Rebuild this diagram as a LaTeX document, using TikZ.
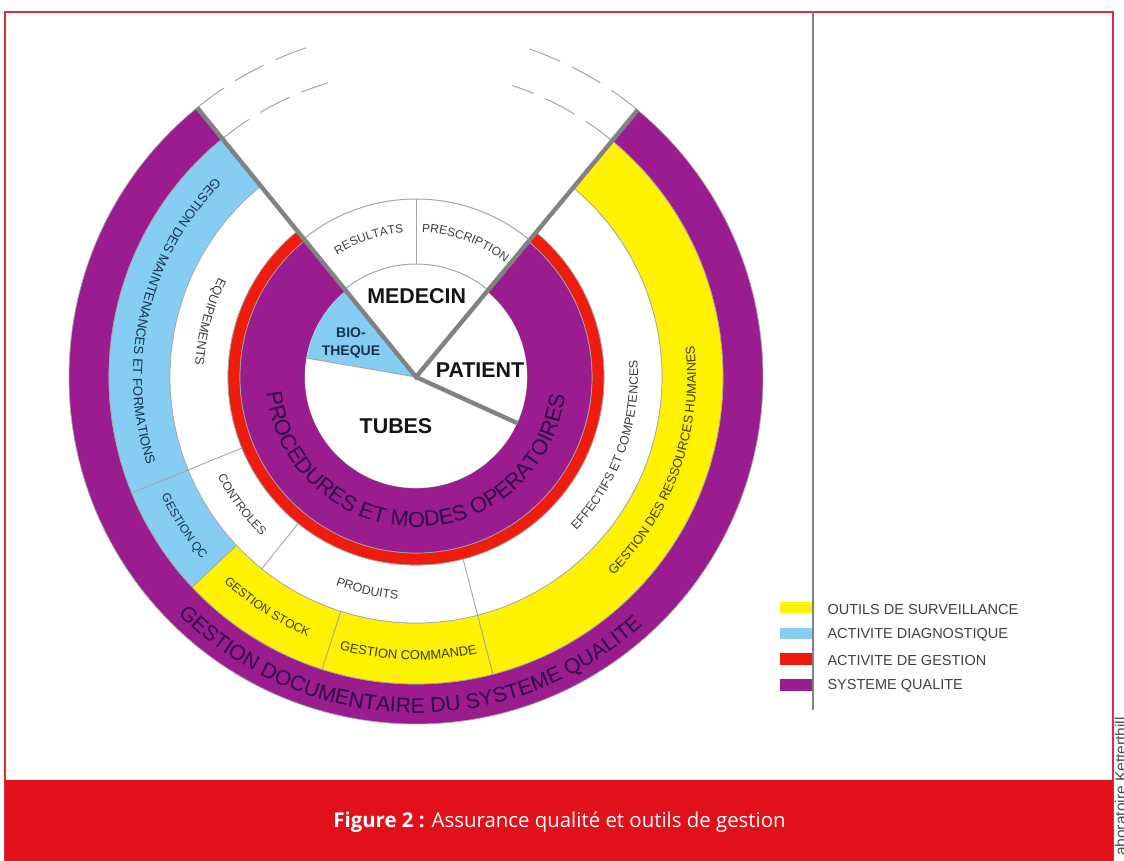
\documentclass[tikz,border=0pt]{standalone}
\usepackage{fontspec}
\setmainfont{Liberation Sans}
\newfontfamily\capfont{Open Sans}
\usetikzlibrary{decorations.text}
\definecolor{qpurple}{HTML}{9A1C8E}
\definecolor{qblue}{HTML}{86CDF4}
\definecolor{qyellow}{HTML}{FFF200}
\definecolor{qred}{HTML}{EE1C0C}
\definecolor{qbanner}{HTML}{E2101A}
\definecolor{qframe}{HTML}{D8303A}
\definecolor{qline}{HTML}{808285}
\definecolor{qthin}{HTML}{A5A5A5}
\definecolor{onwhite}{HTML}{3C3C46}
\definecolor{onblue}{HTML}{16304E}
\definecolor{onyellow}{HTML}{3C3A10}
\definecolor{onpurple}{HTML}{2C0A46}
\tikzset{
  thinsep/.style={draw=qthin,line width=0.9pt},
  thickray/.style={draw=qline,line width=4.4pt},
  ringedge/.style={draw=qthin,line width=0.7pt},
  dashedge/.style={draw=qthin,line width=1pt,dash pattern=on 33pt off 13pt},
  legendtext/.style={anchor=west,text=black!75,font=\fontsize{14.5}{16}\selectfont},
  bigword/.style={font=\fontsize{21.4}{24}\selectfont\bfseries,text=black!92},
}
% sector fill: colour, r1, r2, a1, a2
\newcommand{\annul}[5]{\path[fill=#1,ringedge] (#4:#3) arc[start angle=#4,end angle=#5,radius=#3] -- (#5:#2) arc[start angle=#5,end angle=#4,radius=#2] -- cycle;}
% curved text: colour, size, radius, a1, a2, text
\newcommand{\curved}[6]{\path[decorate,decoration={text along path,text align=center,text color=#1,
   text={|\fontsize{#2}{#2}\selectfont|#6}}] (#4:#3) arc[start angle=#4,end angle=#5,radius=#3];}
\begin{document}
\begin{tikzpicture}[x=1pt,y=1pt]
% origin = centre of the disc, at pixel (416,377)
\useasboundingbox (-416,377) rectangle (708,-484);
\fill[white] (-416,377) rectangle (708,-484);
\coordinate (c) at (0,0);
% frame and banner
\draw[qframe,line width=1.4pt] (-411,-484) -- (-411,365) -- (697,365) -- (697,-484);
\fill[qbanner] (-411,-403) rectangle (697,-484);
\node[font=\capfont\fontsize{20.4}{24}\selectfont,text=white,anchor=center] (caption) at (143.5,-445) {\textbf{Figure 2 :} Assurance qualité et outils de gestion};
\begin{scope}
\clip (-416,377) rectangle (708,-484);
\node[rotate=90,anchor=base east,font=\fontsize{15.5}{17}\selectfont,text=black!70,inner sep=0pt] (credit) at (710,-340) {aboratoire Ketterthill};
\end{scope}
% vertical rule
\coordinate (ruletop) at (397,365);
\coordinate (rulebot) at (397,-333);
% rings
\annul{qpurple}{307}{347}{129.1}{410.3}
\annul{qblue}{246}{307}{129.1}{223.2}
\annul{qyellow}{246}{307}{223.2}{410.3}
\annul{white}{188}{246}{129.1}{410.3}
\annul{qred}{176}{188}{129.1}{410.3}
\annul{qpurple}{111}{176}{129.1}{410.3}
\fill[white] (c) circle[radius=111];
\fill[qblue] (c) -- (129.1:111) arc[start angle=129.1,end angle=170.2,radius=111] -- cycle;
% separators
\draw[thinsep] (202.2:246) -- (202.2:307);
\draw[thinsep] (202.2:188) -- (202.2:246);
\draw[thinsep] (231.2:188) -- (231.2:246);
\draw[thinsep] (252.2:246) -- (252.2:307);
\draw[thinsep] (284.5:188) -- (284.5:307);
\draw[thinsep] (c) -- (170.2:111);
% top wedge
\draw[ringedge,line width=1pt] (50.3:178) arc[start angle=50.3,end angle=129.1,radius=178];
\draw[ringedge,line width=1pt] (50.3:113) arc[start angle=50.3,end angle=129.1,radius=113];
\draw[thinsep] (90:113) -- (90:178);
% dashed top arcs
\draw[dashedge] (129.1:347) arc[start angle=129.1,end angle=107,radius=347];
\draw[dashedge] (50.3:347) arc[start angle=50.3,end angle=71,radius=347];
\draw[dashedge] (129.1:307) arc[start angle=129.1,end angle=106.7,radius=307];
\draw[dashedge] (50.3:307) arc[start angle=50.3,end angle=71.7,radius=307];
% thick rays
\draw[thickray] (129.1:347) -- (c) -- (50.3:347);
\draw[thickray] (c) -- (-24.5:111);
\draw[qline,line width=1.3pt] (ruletop) -- (rulebot);
% straight labels
\node[bigword] (medecin) at (0.7,81.3) {MEDECIN};
\node[bigword] (patient) at (64,7) {PATIENT};
\node[bigword] (tubes) at (-20,-49) {TUBES};
\node[align=center,text=onblue,font=\fontsize{14}{18}\selectfont\bfseries] (bio) at (-65,34.5) {BIO-\\THEQUE};
% curved labels
\curved{onpurple}{21.2}{336}{219}{318.4}{GESTION DOCUMENTAIRE DU SYSTEME QUALITE}
\curved{onpurple}{21.8}{150}{169.5}{369.5}{PROCEDURES ET MODES OPERATOIRES}
\curved{onyellow}{12.8}{280}{-50.7}{12}{GESTION DES RESSOURCES HUMAINES}
\curved{onwhite}{12.4}{222}{-49.8}{10.3}{EFFECTIFS ET COMPETENCES}
\curved{onblue}{13.2}{283}{130}{203.3}{GESTION DES MAINTENANCES ET FORMATIONS}
\curved{onblue}{12}{281}{199.4}{226}{GESTION QC}
\curved{onyellow}{12.2}{281}{221}{253.2}{GESTION STOCK}
\curved{onyellow}{13}{283}{249.2}{287.6}{GESTION COMMANDE}
\curved{onwhite}{12.4}{223}{243.4}{270.8}{PRODUITS}
\curved{onwhite}{12}{222}{200.9}{231.7}{CONTROLES}
\curved{onwhite}{12.6}{221}{147.8}{182.3}{EQUIPEMENTS}
\curved{onwhite}{12}{145}{127.5}{90.3}{RESULTATS}
\curved{onwhite}{12}{145}{92.7}{47}{PRESCRIPTION}
% legend
\fill[qyellow] (364,-225) rectangle (396,-236);
\fill[qblue] (364,-251) rectangle (396,-262);
\fill[qred] (364,-276) rectangle (396,-288);
\fill[qpurple] (364,-302) rectangle (396,-314);
\node[legendtext] (l1) at (408,-232.5) {OUTILS DE SURVEILLANCE};
\node[legendtext] (l2) at (408,-258) {ACTIVITE DIAGNOSTIQUE};
\node[legendtext] (l3) at (408,-284) {ACTIVITE DE GESTION};
\node[legendtext] (l4) at (408,-309) {SYSTEME QUALITE};
\end{tikzpicture}
\end{document}
